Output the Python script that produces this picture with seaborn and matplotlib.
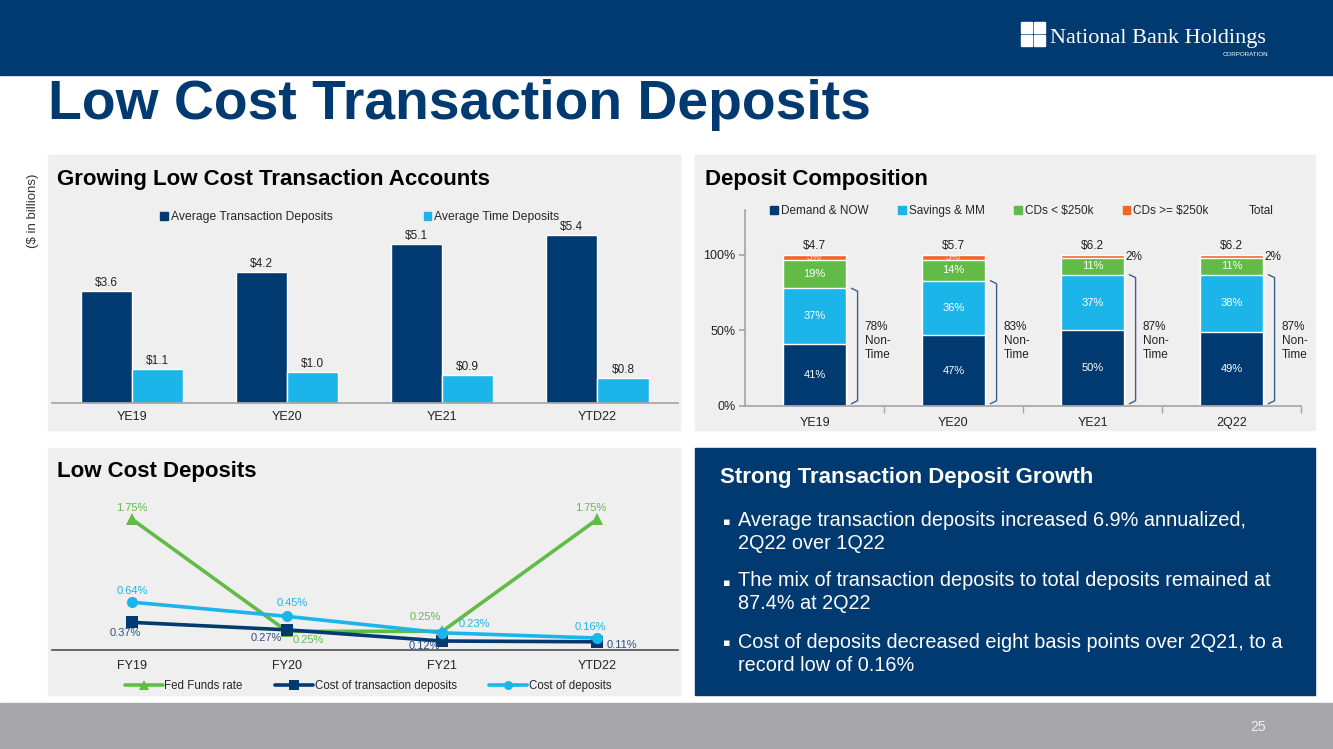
import numpy as np
import pandas as pd
import matplotlib
matplotlib.use("Agg")
import matplotlib.pyplot as plt
from matplotlib.patches import Rectangle, Patch
from matplotlib.lines import Line2D
import seaborn as sns

# ---- data ----
periods_top = ["YE19", "YE20", "YE21", "YTD22"]
avg_transaction = [3.6, 4.2, 5.1, 5.4]
avg_time = [1.1, 1.0, 0.9, 0.8]

periods_mix = ["YE19", "YE20", "YE21", "2Q22"]
demand_now = [41, 47, 50, 49]
savings_mm = [37, 36, 37, 38]
cds_small = [19, 14, 11, 11]
cds_large = [3, 3, 2, 2]
totals = [4.7, 5.7, 6.2, 6.2]
non_time = [78, 83, 87, 87]

periods_cost = ["FY19", "FY20", "FY21", "YTD22"]
fed_funds = [1.75, 0.25, 0.25, 1.75]
cost_transaction = [0.37, 0.27, 0.12, 0.11]
cost_deposits = [0.64, 0.45, 0.23, 0.16]

bullets = [
    "Average transaction deposits increased 6.9% annualized,\n2Q22 over 1Q22",
    "The mix of transaction deposits to total deposits remained at\n87.4% at 2Q22",
    "Cost of deposits decreased eight basis points over 2Q21, to a\nrecord low of 0.16%",
]

NAVY = "#003A70"
CYAN = "#1CB5EA"
GREEN = "#62BB46"
ORANGE = "#F26522"
PANEL = "#EFEFEF"
GRAY = "#A6A6A6"

sns.set_theme(style="white")
plt.rcParams["font.family"] = ["Liberation Sans", "DejaVu Sans"]
NARROW = ["Liberation Sans Narrow", "Liberation Sans", "DejaVu Sans"]

W, H = 1333, 749
fig = plt.figure(figsize=(W / 100, H / 100), dpi=100)
fig.patch.set_facecolor("white")


def rect(x0, y0, x1, y1):
    return [x0 / W, 1 - y1 / H, (x1 - x0) / W, (y1 - y0) / H]


def box(x0, y0, x1, y1, color, z=-5):
    fig.patches.append(Rectangle((x0 / W, 1 - y1 / H), (x1 - x0) / W, (y1 - y0) / H,
                                 transform=fig.transFigure, color=color, zorder=z))


# background pieces
box(0, 0, W, 75, NAVY)
box(0, 703, W, H, "#A7A7A9")
box(48, 155, 680, 430, PANEL)
box(695, 155, 1315, 430, PANEL)
box(48, 448, 680, 695, PANEL)
box(695, 448, 1315, 695, NAVY)

# logo
for (sx, sy) in [(1021, 22), (1034, 22), (1021, 35), (1034, 35)]:
    box(sx, sy, sx + 11, sy + 11, "white", z=-4)
fig.text(1050 / W, 1 - 38 / H, "National Bank Holdings", color="white", fontsize=16,
         family=["Liberation Serif", "DejaVu Serif"], va="center", ha="left")
fig.text(1268 / W, 1 - 54 / H, "CORPORATION", color="white", fontsize=4.5, va="center", ha="right")

fig.text(48 / W, 1 - 105 / H, "Low Cost Transaction Deposits", color=NAVY, fontsize=39.8,
         fontweight="bold", va="center", ha="left")
fig.text(33 / W, 1 - 211 / H, "($ in billions)", rotation=90, fontsize=9.5, color="#333333",
         va="center", ha="center")

# ---- chart 1: grouped bars ----
fig.text(57 / W, 1 - 180 / H, "Growing Low Cost Transaction Accounts", fontsize=16,
         fontweight="bold", color="black", va="center")
df1 = pd.DataFrame({
    "period": periods_top * 2,
    "value": avg_transaction + avg_time,
    "series": ["Average Transaction Deposits"] * 4 + ["Average Time Deposits"] * 4,
})
ax1 = fig.add_axes(rect(52, 230, 678, 403))
sns.barplot(data=df1, x="period", y="value", hue="series", palette=[NAVY, CYAN],
            width=0.66, saturation=1, ax=ax1, legend=False)
for cont in ax1.containers:
    ax1.bar_label(cont, labels=[f"${b.get_height():.1f}" for b in cont], padding=1.5,
                  fontsize=8.5, color="#222222", family=NARROW)
ax1.set_xlim(-0.516, 3.52)
ax1.set_ylim(0, 5.56)
ax1.set_facecolor("none")
for s in ["top", "right", "left"]:
    ax1.spines[s].set_visible(False)
ax1.spines["bottom"].set_color(GRAY)
ax1.set_yticks([])
ax1.set_xlabel("")
ax1.set_ylabel("")
ax1.tick_params(axis="x", length=0, pad=6, labelsize=9, labelcolor="#222222")
for t in ax1.get_xticklabels():
    t.set_family(NARROW)
h1 = [Patch(color=NAVY), Patch(color=CYAN)]
fig.legend(h1, ["Average Transaction Deposits", "Average Time Deposits"], loc="center",
           bbox_to_anchor=(360 / W, 1 - 217 / H), ncol=2, frameon=False,
           handlelength=0.65, handleheight=0.65, handletextpad=0.25, columnspacing=7.5,
           prop={"family": NARROW, "size": 8.7})

# ---- chart 2: stacked composition ----
fig.text(705 / W, 1 - 180 / H, "Deposit Composition", fontsize=16, fontweight="bold",
         color="black", va="center")
ax2 = fig.add_axes(rect(745, 210, 1301, 406))
layers = [demand_now, savings_mm, cds_small, cds_large]
colors2 = [NAVY, CYAN, GREEN, ORANGE]
cum = np.cumsum(np.array(layers), axis=0)
for i in range(3, -1, -1):
    sns.barplot(x=periods_mix, y=cum[i], color=colors2[i], width=0.46, saturation=1, ax=ax2)
for j in range(4):
    bottom = 0
    for i, layer in enumerate(layers):
        v = layer[j]
        if i < 3:
            ax2.text(j, bottom + v / 2, f"{v}%", ha="center", va="center", color="white",
                     fontsize=8, family=NARROW)
        elif v >= 3:
            ax2.text(j, bottom + v / 2, f"{v}%", ha="center", va="center", color="#FCE4D6",
                     fontsize=7.5, family=NARROW)
        else:
            ax2.text(j + 0.24, bottom + v / 2, f"{v}%", ha="left", va="center",
                     color="#222222", fontsize=8.5, family=NARROW)
        bottom += v
    ax2.text(j, cum[3][j] + 2, f"${totals[j]:.1f}", ha="center", va="bottom", fontsize=8.5,
             color="#222222", family=NARROW)
    # brace on the non-time share
    bx0, bx1 = j + 0.265, j + 0.31
    yb, yt = 1.5, non_time[j]
    ax2.plot([bx0, bx1, bx1, bx1, bx1, bx0],
             [yb, yb + 2, yb + 5, yt - 5, yt - 2, yt],
             color="#3E5F8A", lw=1.0, solid_capstyle="round")
    ax2.text(j + 0.36, 43, f"{non_time[j]}%\nNon-\nTime", ha="left", va="center",
             fontsize=8.5, color="#222222", family=NARROW, linespacing=1.2)
ax2.set_xlim(-0.5, 3.5)
ax2.set_ylim(0, 129.8)
ax2.set_facecolor("none")
for s in ["top", "right"]:
    ax2.spines[s].set_visible(False)
ax2.spines["left"].set_color(GRAY)
ax2.spines["bottom"].set_color(GRAY)
ax2.set_yticks([0, 50, 100])
ax2.set_yticklabels(["0%", "50%", "100%"])
ax2.set_xticks([0.5, 1.5, 2.5, 3.5], minor=True)
ax2.tick_params(axis="x", which="major", length=0, pad=8, labelsize=9, labelcolor="#222222")
ax2.tick_params(axis="x", which="minor", length=5, color=GRAY, direction="out", bottom=True)
ax2.tick_params(axis="y", length=4, color=GRAY, left=True, labelsize=9, labelcolor="#222222", pad=3)
for t in ax2.get_xticklabels() + ax2.get_yticklabels():
    t.set_family(NARROW)
h2 = [Patch(color=c) for c in colors2] + [Patch(color="none")]
fig.legend(h2, ["Demand & NOW", "Savings & MM", "CDs < $250k", "CDs >= $250k", "Total"],
           loc="center", bbox_to_anchor=(1022 / W, 1 - 211 / H), ncol=5, frameon=False,
           handlelength=0.65, handleheight=0.65, handletextpad=0.25, columnspacing=2.5,
           prop={"family": NARROW, "size": 8.5})

# ---- chart 3: cost lines ----
fig.text(57 / W, 1 - 472 / H, "Low Cost Deposits", fontsize=16, fontweight="bold",
         color="black", va="center")
names3 = ["Fed Funds rate", "Cost of transaction deposits", "Cost of deposits"]
df3 = pd.DataFrame({
    "pos": list(range(4)) * 3,
    "rate": fed_funds + cost_transaction + cost_deposits,
    "series": [names3[0]] * 4 + [names3[1]] * 4 + [names3[2]] * 4,
})
pal3 = {names3[0]: GREEN, names3[1]: NAVY, names3[2]: CYAN}
mk3 = {names3[0]: "^", names3[1]: "s", names3[2]: "o"}
ax3 = fig.add_axes(rect(52, 500, 678, 650))
sns.lineplot(data=df3, x="pos", y="rate", hue="series", style="series", palette=pal3,
             markers=mk3, dashes=False, linewidth=2.6, markersize=8, markeredgewidth=0,
             ax=ax3, legend=False, sort=False)
lab_col = {names3[0]: GREEN, names3[1]: "#2F4E7E", names3[2]: CYAN}
offsets = {
    names3[0]: [(0, 11), (21, -9), (-17, 14), (-7, 11)],
    names3[1]: [(-7, -11), (-21, -8), (-18, -5), (25, -3)],
    names3[2]: [(0, 11), (5, 13), (32, 9), (-7, 11)],
}
for name, vals in zip(names3, [fed_funds, cost_transaction, cost_deposits]):
    for j, v in enumerate(vals):
        ax3.annotate(f"{v:.2f}%", (j, v), xytext=offsets[name][j], textcoords="offset pixels",
                     ha="center", va="center", fontsize=8, color=lab_col[name], family=NARROW)
ax3.set_xlim(-0.516, 3.52)
ax3.set_ylim(0, 2.008)
ax3.set_facecolor("none")
for s in ["top", "right", "left"]:
    ax3.spines[s].set_visible(False)
ax3.spines["bottom"].set_color("#555555")
ax3.set_yticks([])
ax3.set_xticks(range(4))
ax3.set_xticklabels(periods_cost)
ax3.set_xlabel("")
ax3.set_ylabel("")
ax3.tick_params(axis="x", length=0, pad=7, labelsize=9, labelcolor="#222222")
for t in ax3.get_xticklabels():
    t.set_family(NARROW)
h3 = [Line2D([], [], color=pal3[n], marker=mk3[n], lw=2.6, markersize=6.5, markeredgewidth=0)
      for n in names3]
fig.legend(h3, names3, loc="center", bbox_to_anchor=(368 / W, 1 - 686 / H), ncol=3,
           frameon=False, handlelength=3.3, handletextpad=0.15, columnspacing=2.8,
           prop={"family": NARROW, "size": 8.3})

# ---- text box ----
fig.text(720 / W, 1 - 477 / H, "Strong Transaction Deposit Growth", fontsize=16,
         fontweight="bold", color="white", va="center")
for k, (txt, yy) in enumerate(zip(bullets, [532, 592, 654])):
    fig.text(723 / W, 1 - (522 + k * 60.5) / H, "\u25aa", fontsize=8, color="white",
             va="center", ha="left", family=["DejaVu Sans"])
    fig.text(738 / W, 1 - yy / H, txt, fontsize=14.3, color="white", va="center",
             ha="left", linespacing=1.25)

fig.text(1258 / W, 1 - 727 / H, "25", fontsize=10, color="#F2F2F2", va="center", ha="center")

fig.savefig("out.png", dpi=100)
